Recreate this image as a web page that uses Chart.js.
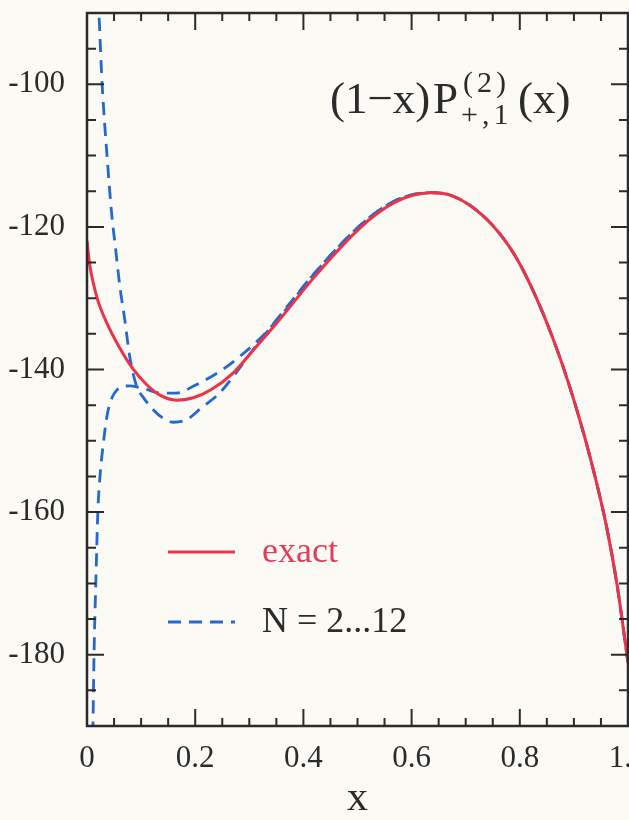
<!DOCTYPE html>
<html>
<head>
<meta charset="utf-8">
<script src="https://cdn.jsdelivr.net/npm/chart.js@4.4.0/dist/chart.umd.min.js"></script>
<style>
  html, body { margin: 0; padding: 0; background: #fbfaf4; }
  #wrap { width: 629px; height: 820px; position: relative; }
</style>
</head>
<body>
<div id="wrap"><canvas id="chart"></canvas></div>
<script>
const SERIF = '"Liberation Serif", "DejaVu Serif", serif';
const INK = '#2b2b2b';
const RED = '#ec3347';
const BLUE = '#2468d2';

// exact curve
const exactX = [0, 0.005, 0.012, 0.02, 0.035, 0.06, 0.085, 0.11, 0.135, 0.165, 0.195, 0.23, 0.27, 0.305, 0.355, 0.415, 0.48, 0.52, 0.565, 0.6, 0.635, 0.67, 0.71, 0.75, 0.78, 0.8, 0.82, 0.84, 0.86, 0.88, 0.9, 0.92, 0.94, 0.96, 0.98, 1.0];
const exactY = [-122, -125.3, -128, -130.3, -133.2, -136.9, -139.9, -142.1, -143.6, -144.3, -144.0, -142.8, -140.5, -137.5, -133.1, -127.5, -122, -119.1, -116.7, -115.6, -115.2, -115.5, -117.1, -119.8, -122.7, -125.2, -128.2, -131.6, -135.4, -139.6, -144.3, -149.5, -155.3, -161.9, -170.3, -181.1];

// truncated series N = 2...12, upper branch near x = 0
const seriesAX = [0.012, 0.022, 0.028, 0.037, 0.046, 0.052, 0.061, 0.07, 0.079, 0.092, 0.103, 0.122, 0.14, 0.16, 0.185, 0.208, 0.245, 0.275, 0.306, 0.355, 0.415, 0.48, 0.52, 0.565, 0.6, 0.635, 0.67, 0.71, 0.75, 0.78, 0.8, 0.82, 0.84, 0.86, 0.88, 0.9, 0.92, 0.94, 0.96, 0.98, 1.0];
const seriesAY = [-76, -90, -100, -110, -118.5, -122.5, -128.5, -133.1, -138.2, -142.4, -143.8, -145.6, -146.8, -147.4, -147, -145.6, -143.3, -140.5, -137.3, -132.6, -127, -121.6, -118.8, -116.5, -115.5, -115.2, -115.5, -117.1, -119.8, -122.7, -125.2, -128.2, -131.6, -135.4, -139.6, -144.3, -149.5, -155.3, -161.9, -170.3, -181.1];

// lower branch near x = 0
const seriesBX = [0.009, 0.011, 0.013, 0.017, 0.02, 0.024, 0.03, 0.037, 0.046, 0.055, 0.065, 0.079, 0.095, 0.11, 0.134, 0.165, 0.2, 0.245, 0.282, 0.318, 0.36, 0.415, 0.48, 0.52, 0.565, 0.6, 0.635, 0.67, 0.71, 0.75, 0.78, 0.8, 0.82, 0.84, 0.86, 0.88, 0.9, 0.92, 0.94, 0.96, 0.98, 1.0];
const seriesBY = [-200, -190, -180, -168, -160, -155, -150.5, -146.5, -144, -142.9, -142.4, -142.3, -142.5, -142.8, -143.3, -143.3, -142.2, -140.3, -138.2, -135.8, -132.3, -127, -121.6, -118.8, -116.5, -115.5, -115.2, -115.5, -117.1, -119.8, -122.7, -125.2, -128.2, -131.6, -135.4, -139.6, -144.3, -149.5, -155.3, -161.9, -170.3, -181.1];

const xTicks = [0, 0.2, 0.4, 0.6, 0.8, 1];
const yTicks = [-180, -160, -140, -120, -100];

const pts = (xs, ys) => xs.map((x, i) => ({ x: x, y: ys[i] }));

// box with inward ticks on all four sides
const frame = {
  id: 'frame',
  afterDatasetsDraw(chart) {
    const { ctx, chartArea: a, scales: { x, y } } = chart;
    ctx.save();
    ctx.strokeStyle = INK;
    ctx.lineWidth = 2;
    ctx.beginPath();
    for (let i = 0; i <= 20; i++) {
      const px = x.getPixelForValue(i * 0.05);
      const len = i % 4 === 0 ? 17 : 8;
      ctx.moveTo(px, a.bottom); ctx.lineTo(px, a.bottom - len);
      ctx.moveTo(px, a.top); ctx.lineTo(px, a.top + len);
    }
    for (let i = 0; i <= 20; i++) {
      const v = -190 + i * 5;
      const py = y.getPixelForValue(v);
      const len = v % 20 === 0 ? 17 : 9;
      ctx.moveTo(a.left, py); ctx.lineTo(a.left + len, py);
      ctx.moveTo(a.right, py); ctx.lineTo(a.right - len, py);
    }
    ctx.stroke();
    ctx.lineWidth = 2.5;
    ctx.strokeRect(a.left, a.top, a.right - a.left, a.bottom - a.top);
    ctx.restore();
  }
};

// formula label and the in-plot legend
const annotations = {
  id: 'annotations',
  afterDraw(chart) {
    const { ctx } = chart;
    ctx.save();
    ctx.fillStyle = INK;
    ctx.textBaseline = 'alphabetic';
    const base = 113;
    ctx.font = '45px ' + SERIF;
    ctx.fillText('(1\u2212x)', 330, base);
    ctx.fillText('P', 433, base);
    ctx.font = '30px ' + SERIF;
    ctx.letterSpacing = '4px';
    ctx.fillText('(2)', 463, base - 21);
    ctx.fillText('+,1', 461, base + 11);
    ctx.letterSpacing = '0px';
    ctx.font = '45px ' + SERIF;
    ctx.fillText('(x)', 518, base);

    const rows = [
      { ds: 0, y: 552, color: '#e63c58' },
      { ds: 1, y: 622, color: INK }
    ];
    rows.forEach(r => {
      const d = chart.data.datasets[r.ds];
      ctx.strokeStyle = d.borderColor;
      ctx.lineWidth = d.borderWidth;
      ctx.setLineDash(d.borderDash || []);
      ctx.beginPath();
      ctx.moveTo(168, r.y);
      ctx.lineTo(235, r.y);
      ctx.stroke();
      ctx.font = '36px ' + SERIF;
      ctx.fillStyle = r.color;
      ctx.fillText(d.label, 262, r.y + 10);
    });
    ctx.restore();
  }
};

new Chart(document.getElementById('chart'), {
  type: 'line',
  data: {
    datasets: [
      { label: 'exact', data: pts(exactX, exactY), borderColor: RED, borderWidth: 3 },
      { label: 'N = 2...12', data: pts(seriesAX, seriesAY), borderColor: BLUE, borderWidth: 2.8, borderDash: [13, 8] },
      { label: 'N = 2...12', data: pts(seriesBX, seriesBY), borderColor: BLUE, borderWidth: 2.8, borderDash: [13, 8] }
    ]
  },
  options: {
    responsive: true,
    maintainAspectRatio: false,
    animation: false,
    layout: { padding: { top: 13, right: 1, left: 0, bottom: 0 } },
    elements: {
      point: { radius: 0 },
      line: { cubicInterpolationMode: 'monotone', fill: false }
    },
    plugins: { legend: { display: false }, tooltip: { enabled: false } },
    scales: {
      x: {
        type: 'linear',
        min: 0,
        max: 1,
        afterBuildTicks: s => { s.ticks = xTicks.map(v => ({ value: v })); },
        afterFit: s => { s.height = 94; s.paddingLeft = 0; s.paddingRight = 0; },
        grid: { display: false, drawTicks: false },
        border: { display: false },
        ticks: { padding: 14, color: INK, font: { family: SERIF, size: 31 }, maxRotation: 0 },
        title: { display: true, text: 'x', color: INK, font: { family: SERIF, size: 42, lineHeight: 1 }, padding: 0 }
      },
      y: {
        type: 'linear',
        min: -190,
        max: -90,
        afterBuildTicks: s => { s.ticks = yTicks.map(v => ({ value: v })); },
        afterFit: s => { s.width = 87; s.paddingTop = 0; s.paddingBottom = 0; },
        grid: { display: false, drawTicks: false },
        border: { display: false },
        ticks: { padding: 22, color: INK, font: { family: SERIF, size: 31 } }
      }
    }
  },
  plugins: [frame, annotations]
});
</script>
</body>
</html>
